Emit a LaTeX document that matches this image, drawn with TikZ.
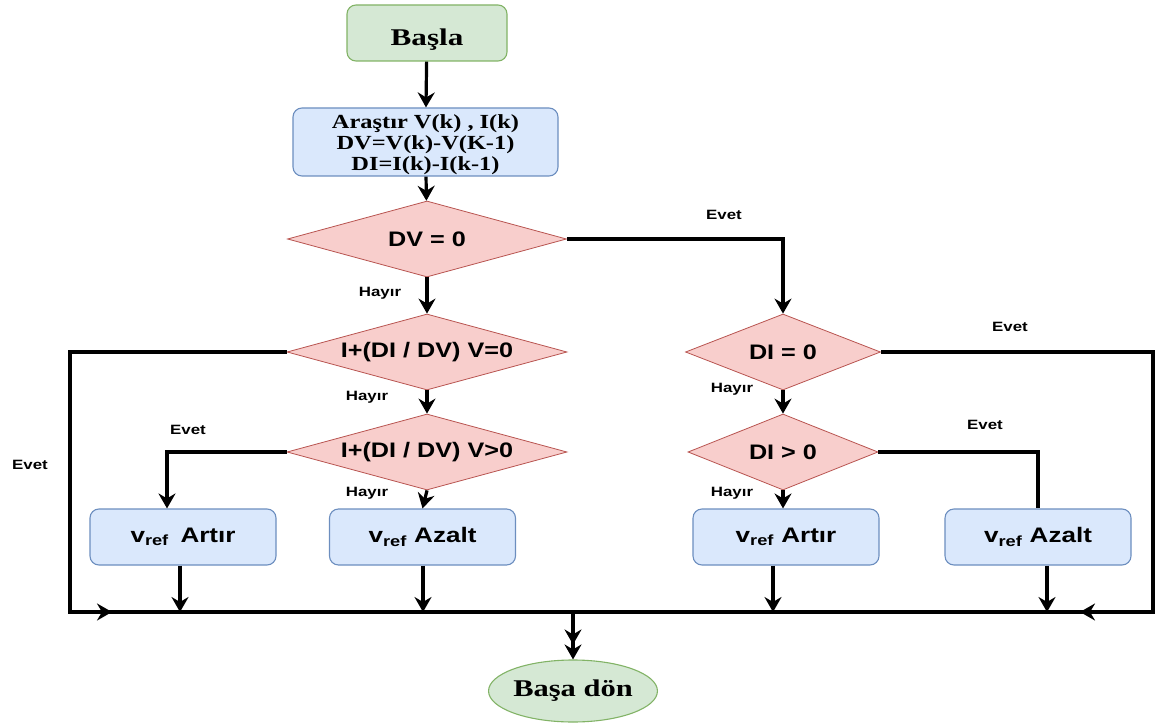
\documentclass[tikz,border=0pt]{standalone}
\usepackage{fontspec}
\setmainfont{Liberation Serif}
\setsansfont{Liberation Sans}
\usetikzlibrary{shapes.geometric,arrows.meta}

\definecolor{termfill}{HTML}{D5E8D4}
\definecolor{termline}{HTML}{82B366}
\definecolor{procfill}{HTML}{DAE8FC}
\definecolor{procline}{HTML}{6C8EBF}
\definecolor{decfill}{HTML}{F8CECC}
\definecolor{decline}{HTML}{B85450}

% horizontally widened text
\newcommand\widetxt[2][1.2]{\scalebox{#1}[1]{#2}}
% lower the ink of a text without changing its reported size
\newcommand\lowertxt[2]{\raisebox{-#1}[\height][\depth]{#2}}

\tikzset{
  termbox/.style={draw=termline, fill=termfill, line width=1.1pt, inner sep=0pt,
    font=\fontsize{24}{26}\selectfont\bfseries},
  procbox/.style={rectangle, rounded corners=9pt, draw=procline, fill=procfill,
    line width=1.1pt, inner sep=0pt, align=center},
  decbox/.style={diamond, draw=decline, fill=decfill, line width=0.8pt, inner sep=0pt,
    font=\sffamily\bfseries\fontsize{21}{23}\selectfont},
  lbl/.style={font=\sffamily\bfseries\fontsize{13.5}{15}\selectfont, inner sep=0pt},
  link/.style={line width=3.2pt, black},
  arr/.style={link, -{Stealth[length=15pt, width=17pt, inset=5pt]}},
  arr2/.style={link, -{Stealth[length=15pt, width=17pt, inset=5pt]Stealth[length=15pt, width=17pt, inset=5pt]}},
}

\begin{document}
\begin{tikzpicture}[x=1pt, y=-1pt]
  \useasboundingbox (0,0) rectangle (1158,727);

  % terminals
  \node[termbox, rectangle, rounded corners=9pt, minimum width=160pt, minimum height=56pt]
    (start) at (427,33) {\lowertxt{7pt}{\widetxt[1.3]{Başla}}};
  \node[termbox, ellipse, minimum width=160pt, minimum height=62pt]
    (stop) at (573,691) {\widetxt[1.27]{Başa dön}};

  % measurement step
  \node[procbox, minimum width=265pt, minimum height=68pt,
        font=\bfseries\fontsize{20}{21}\selectfont] (meas) at (425.5,142)
    {\lowertxt{3pt}{\widetxt[1.22]{Araştır V(k) , I(k)}}\\
     \lowertxt{3pt}{\widetxt[1.22]{DV=V(k)-V(K-1)}}\\
     \lowertxt{3pt}{\widetxt[1.22]{DI=I(k)-I(k-1)}}};

  % decisions
  \node[decbox, aspect=3.67, minimum width=279pt, minimum height=76pt] (d1) at (427,239) {\widetxt{DV = 0}};
  \node[decbox, aspect=3.68, minimum width=280pt, minimum height=76pt] (d2) at (427,352) {\widetxt{I+(DI / DV) V=0}};
  \node[decbox, aspect=3.68, minimum width=280pt, minimum height=76pt] (d4) at (427,452) {\widetxt{I+(DI / DV) V>0}};
  \node[decbox, aspect=2.57, minimum width=195pt, minimum height=76pt] (d3) at (783,352) {\widetxt{DI = 0}};
  \node[decbox, aspect=2.5, minimum width=190pt, minimum height=76pt] (d5) at (783,452) {\widetxt{DI > 0}};

  % actions
  \tikzset{act/.style={procbox, minimum width=186pt, minimum height=56pt,
    font=\sffamily\bfseries\fontsize{21}{23}\selectfont}}
  \node[act] (b1) at (183,537) {\widetxt[1.24]{v\textsubscript{ref}\, Artır}};
  \node[act] (b2) at (422.5,537) {\widetxt[1.24]{v\textsubscript{ref} Azalt}};
  \node[act] (b3) at (786,537) {\widetxt[1.24]{v\textsubscript{ref} Artır}};
  \node[act] (b4) at (1038,537) {\widetxt[1.24]{v\textsubscript{ref} Azalt}};

  % collecting line
  \coordinate (bl) at (70,612);
  \coordinate (br) at (1153,612);
  \coordinate (j) at (573,612);
  \coordinate (mL) at (112,612);
  \coordinate (mR) at (1080,612);

  % main chain
  \draw[arr] (start) -- (meas);
  \draw[arr] (meas) -- (d1);
  \draw[arr] (d1.south) -- (d2.north);
  \draw[arr] (d2.south) -- (d4.north);
  \draw[arr] (d4.south) -- (b2.north);
  \draw[arr] (d1.east) -| (d3.north);
  \draw[arr] (d3.south) -- (d5.north);
  \draw[arr] (d5.south) -- (d5.south |- b3.north);

  % yes branches
  \coordinate (b1in) at ([xshift=-16pt]b1.north);
  \draw[arr] (d4.west) -| (b1in);
  \draw[link] (d5.east) -| (b4.north);
  \draw[link] (d2.west) -| (bl) -- (br) |- (d3.east);
  \draw[arr] (bl) -- (mL);
  \draw[arr] (br) -- (mR);

  % actions into the collecting line
  \coordinate (o1) at ([xshift=-3pt]b1.south);
  \coordinate (o2) at ([xshift=0.5pt]b2.south);
  \coordinate (o3) at ([xshift=-13pt]b3.south);
  \coordinate (o4) at ([xshift=9pt]b4.south);
  \draw[arr] (o1) -- (o1 |- j);
  \draw[arr] (o2) -- (o2 |- j);
  \draw[arr] (o3) -- (o3 |- j);
  \draw[arr] (o4) -- (o4 |- j);
  \draw[arr2] (j) -- (stop.north);

  % branch labels
  \node[lbl] (e1) at (724,215) {\widetxt[1.25]{Evet}};
  \node[lbl] (e2) at (1010,327) {\widetxt[1.25]{Evet}};
  \node[lbl] (e3) at (985,425) {\widetxt[1.25]{Evet}};
  \node[lbl] (e4) at (188,430) {\widetxt[1.25]{Evet}};
  \node[lbl] (e5) at (30,465) {\widetxt[1.25]{Evet}};
  \node[lbl] (h1) at (380,293) {\widetxt[1.25]{Hayır}};
  \node[lbl] (h2) at (367,397) {\widetxt[1.25]{Hayır}};
  \node[lbl] (h3) at (367,493) {\widetxt[1.25]{Hayır}};
  \node[lbl] (h4) at (732,389) {\widetxt[1.25]{Hayır}};
  \node[lbl] (h5) at (732,493) {\widetxt[1.25]{Hayır}};
\end{tikzpicture}
\end{document}
